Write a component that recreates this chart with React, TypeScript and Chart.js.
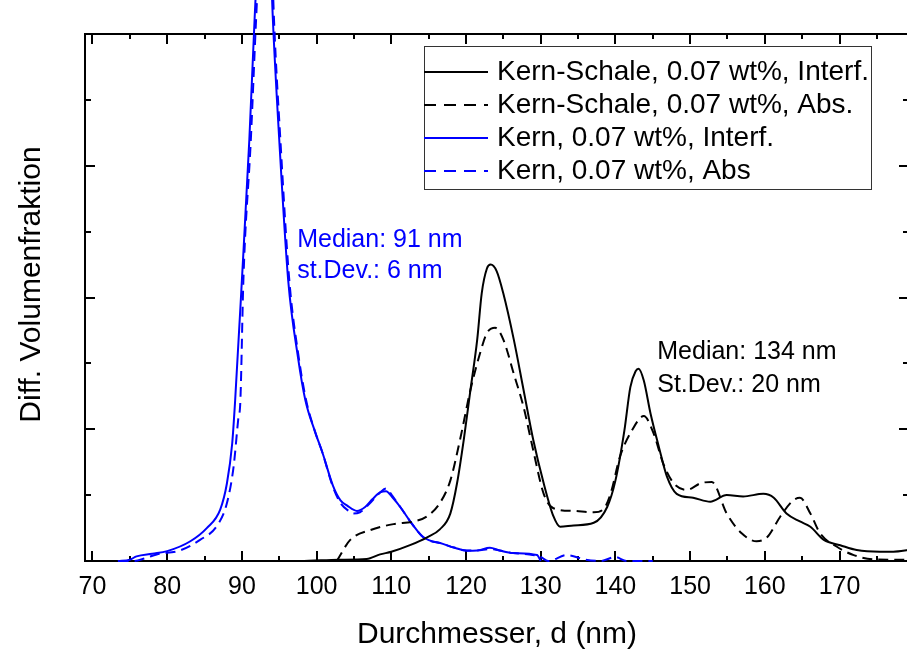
import React, { useEffect, useRef } from 'react';
import { Chart, registerables } from 'chart.js';

Chart.register(...registerables);

const FONT = "'Liberation Sans', Arial, Helvetica, sans-serif";

// ---- axis ----
const xTickValues = [70, 80, 90, 100, 110, 120, 130, 140, 150, 160, 170];
const xTitle = 'Durchmesser, d (nm)';
const yTitle = 'Diff. Volumenfraktion';

// ---- series labels ----
const seriesLabels = [
  'Kern-Schale, 0.07 wt%, Interf.',
  'Kern-Schale, 0.07 wt%, Abs.',
  'Kern, 0.07 wt%, Interf.',
  'Kern, 0.07 wt%, Abs',
];

// Kern-Schale, Interf. (black solid)
const ksInterfX = [92.7, 97.8, 103, 106.7, 108.5, 110, 112.5, 114.8, 116.5, 117.9, 118.8, 119.7, 120.6, 121.5, 122.1, 122.8, 123.3, 124.1, 125.0, 126.4, 127.7, 129.0, 130.4, 131.7, 132.6, 134.4, 137.1, 138.9, 140.0, 141.2, 142.0, 142.7, 143.1, 143.8, 144.7, 145.8, 146.9, 148.2, 150.4, 152.7, 154.9, 157.1, 159.8, 161.2, 162.9, 164.7, 166.1, 167.9, 170.1, 172.3, 175.4, 177.2, 179.5];
const ksInterfY = [0, 0, 0.01, 0.015, 0.05, 0.07, 0.12, 0.18, 0.24, 0.36, 0.59, 0.92, 1.30, 1.68, 2.03, 2.22, 2.25, 2.20, 2.03, 1.68, 1.30, 0.92, 0.59, 0.34, 0.26, 0.27, 0.29, 0.41, 0.61, 0.99, 1.32, 1.44, 1.46, 1.37, 1.12, 0.87, 0.64, 0.51, 0.48, 0.45, 0.50, 0.49, 0.51, 0.48, 0.36, 0.30, 0.26, 0.16, 0.12, 0.083, 0.07, 0.07, 0.085];

// Kern-Schale, Abs. (black dashed)
const ksAbsX = [102.7, 104.5, 107.2, 110.3, 113.0, 114.8, 116.5, 117.9, 119.2, 120.6, 121.9, 122.8, 123.9, 125.0, 126.4, 127.7, 129.0, 130.4, 131.7, 134.4, 137.1, 138.5, 139.4, 140.6, 142.2, 143.8, 145.1, 146.4, 147.8, 149.6, 151.4, 152.9, 154.9, 156.9, 158.9, 160.3, 162.1, 163.8, 164.7, 166.1, 167.4, 169.6, 171.9, 174.5, 177.2, 179.5];
const ksAbsY = [0, 0.16, 0.235, 0.28, 0.30, 0.34, 0.44, 0.61, 0.92, 1.30, 1.58, 1.73, 1.77, 1.68, 1.42, 1.17, 0.84, 0.51, 0.40, 0.38, 0.37, 0.40, 0.52, 0.79, 0.99, 1.10, 0.97, 0.74, 0.59, 0.54, 0.59, 0.60, 0.36, 0.21, 0.15, 0.18, 0.34, 0.46, 0.48, 0.36, 0.21, 0.11, 0.045, 0.013, 0.01, 0.01];

// Kern, Interf. (blue solid)
const kInterfX = [73.4, 75.0, 75.9, 78.0, 80.0, 83.1, 85.3, 87.1, 88.0, 88.7, 89.1, 90.0, 91.0, 91.7, 92.4, 93.0, 93.6, 94.15, 95.0, 96.2, 97.5, 98.5, 99.8, 100.8, 102.2, 103.2, 104.1, 105.4, 106.5, 107.5, 108.5, 109.3, 110.2, 111.2, 112.8, 114.3, 116.9, 118.5, 120.1, 121.5, 123.2, 124.5, 126.3, 129.5, 130.0];
const kInterfY = [0, 0.01, 0.035, 0.055, 0.075, 0.15, 0.25, 0.39, 0.59, 0.89, 1.22, 2.13, 3.20, 4.11, 4.9, 5.3, 4.95, 4.11, 3.20, 2.13, 1.55, 1.22, 0.98, 0.82, 0.57, 0.46, 0.42, 0.38, 0.41, 0.47, 0.52, 0.53, 0.48, 0.41, 0.28, 0.18, 0.13, 0.10, 0.078, 0.08, 0.10, 0.08, 0.06, 0.045, 0];

// Kern, Abs (blue dashed)
const kAbsX = [73.5, 75.5, 77.0, 78.6, 81.7, 84.4, 86.7, 88.0, 88.9, 89.5, 89.8, 90.2, 91.2, 91.9, 92.6, 93.2, 93.8, 94.3, 95.15, 96.35, 97.6, 98.6, 99.8, 100.8, 102.2, 103.2, 104.3, 104.9, 105.8, 107.0, 108.5, 109.3, 110.2, 111.2, 112.8, 114.3, 116.9, 118.5, 120.1, 121.5, 123.2, 124.5, 126.3, 128.5, 130.0, 131.0, 133.5, 136.0, 138.0, 140.0, 141.5, 145.0];
const kAbsY = [0, 0, 0.02, 0.05, 0.08, 0.16, 0.27, 0.44, 0.72, 1.07, 1.22, 2.13, 3.20, 4.11, 4.9, 5.3, 4.95, 4.11, 3.20, 2.13, 1.55, 1.22, 0.98, 0.82, 0.56, 0.44, 0.38, 0.36, 0.37, 0.43, 0.52, 0.55, 0.49, 0.41, 0.28, 0.18, 0.13, 0.10, 0.08, 0.08, 0.09, 0.08, 0.06, 0.05, 0.03, 0, 0.045, 0.01, 0, 0.03, 0, 0];

const seriesX = [ksInterfX, ksAbsX, kInterfX, kAbsX];
const seriesY = [ksInterfY, ksAbsY, kInterfY, kAbsY];
const seriesColors = ['#000000', '#000000', '#0000ff', '#0000ff'];
const seriesDashed = [false, true, false, true];

// ---- annotations ----
const noteTexts = ['Median: 91 nm', 'st.Dev.: 6 nm', 'Median: 134 nm', 'St.Dev.: 20 nm'];
const noteX = [97.4, 97.4, 145.6, 145.6];
const noteY = [2.383, 2.148, 1.531, 1.285];
const noteColors = ['#0000ff', '#0000ff', '#000000', '#000000'];

const DASH = [10, 6];

const framePlugin = {
  id: 'frame',
  beforeDatasetsDraw(chart: any) {
    const { ctx, chartArea, scales } = chart;
    const { left, top, right, bottom } = chartArea;
    const x = scales.x;
    const y = scales.y;
    ctx.save();
    ctx.strokeStyle = '#000';
    ctx.lineWidth = 2;
    ctx.beginPath();
    ctx.moveTo(left, top); ctx.lineTo(right, top);
    ctx.moveTo(left, bottom); ctx.lineTo(right, bottom);
    ctx.moveTo(left, top - 1); ctx.lineTo(left, bottom + 1);
    ctx.moveTo(right, top - 1); ctx.lineTo(right, bottom + 1);
    for (let v = 70; v <= 175; v += 5) {
      const px = Math.round(x.getPixelForValue(v));
      const len = v % 10 === 0 ? 10 : 5;
      ctx.moveTo(px, bottom); ctx.lineTo(px, bottom - len);
      ctx.moveTo(px, top); ctx.lineTo(px, top + len);
    }
    for (let v = 0.5; v < 4; v += 0.5) {
      const py = Math.round(y.getPixelForValue(v));
      const len = Number.isInteger(v) ? 10 : 6;
      ctx.moveTo(left, py); ctx.lineTo(left + len, py);
      ctx.moveTo(right, py); ctx.lineTo(right - len, py);
    }
    ctx.stroke();
    ctx.restore();
  },
};

const textPlugin = {
  id: 'texts',
  afterDraw(chart: any) {
    const { ctx, chartArea, scales } = chart;
    const x = scales.x;
    const y = scales.y;
    ctx.save();
    // y axis title
    ctx.save();
    ctx.translate(32, (chartArea.top + chartArea.bottom) / 2 - 13);
    ctx.rotate(-Math.PI / 2);
    ctx.font = `30px ${FONT}`;
    ctx.fillStyle = '#000';
    ctx.textAlign = 'center';
    ctx.textBaseline = 'middle';
    ctx.fillText(yTitle, 0, 0);
    ctx.restore();

    // annotations
    ctx.font = `25px ${FONT}`;
    ctx.textAlign = 'left';
    ctx.textBaseline = 'alphabetic';
    noteTexts.forEach((t, i) => {
      ctx.fillStyle = noteColors[i];
      ctx.fillText(t, x.getPixelForValue(noteX[i]), y.getPixelForValue(noteY[i]));
    });

    // legend
    const bx = 424, by = 46, bw = 447, bh = 143;
    ctx.fillStyle = '#fff';
    ctx.fillRect(bx, by, bw, bh);
    ctx.strokeStyle = '#333';
    ctx.lineWidth = 1;
    ctx.strokeRect(bx + 0.5, by + 0.5, bw, bh);
    ctx.font = `28px ${FONT}`;
    ctx.textBaseline = 'middle';
    seriesLabels.forEach((lab, i) => {
      const ry = 72 + i * 33;
      ctx.strokeStyle = seriesColors[i];
      ctx.lineWidth = 2;
      ctx.setLineDash(seriesDashed[i] ? [12, 8] : []);
      ctx.beginPath();
      ctx.moveTo(bx, Math.round(ry));
      ctx.lineTo(bx + 64, Math.round(ry));
      ctx.stroke();
      ctx.setLineDash([]);
      ctx.fillStyle = '#000';
      ctx.fillText(lab, bx + 73, ry);
    });
    ctx.restore();
  },
};

export default function App() {
  const canvasRef = useRef<HTMLCanvasElement | null>(null);

  useEffect(() => {
    document.documentElement.style.overflow = 'hidden';
    document.body.style.overflow = 'hidden';
    const canvas = canvasRef.current;
    if (!canvas) return;
    const datasets = seriesLabels.map((label, i) => ({
      label,
      data: seriesX[i].map((xv, j) => ({ x: xv, y: seriesY[i][j] })),
      borderColor: seriesColors[i],
      backgroundColor: seriesColors[i],
      borderWidth: 2,
      borderDash: seriesDashed[i] ? DASH : [],
      pointRadius: 0,
      fill: false,
      cubicInterpolationMode: 'monotone' as const,
      clip: false as any,
    }));
    const chart = new Chart(canvas, {
      type: 'line',
      data: { datasets },
      options: {
        animation: false,
        responsive: false,
        devicePixelRatio: 1,
        layout: { padding: { top: 34, right: 6, left: 0, bottom: 0 } },
        plugins: {
          legend: { display: false },
          tooltip: { enabled: false },
          title: { display: false },
        },
        scales: {
          x: {
            type: 'linear',
            min: 69,
            max: 179.3,
            afterBuildTicks: (scale: any) => {
              scale.ticks = xTickValues.map((v) => ({ value: v }));
            },
            afterFit: (scale: any) => {
              scale.height = 92;
            },
            grid: { display: false, drawTicks: false },
            border: { display: false },
            ticks: {
              autoSkip: false,
              maxRotation: 0,
              padding: 11,
              color: '#000',
              font: { family: FONT, size: 25 },
            },
            title: {
              display: true,
              text: xTitle,
              color: '#000',
              font: { family: FONT, size: 30 },
              padding: 0,
            },
          },
          y: {
            type: 'linear',
            min: 0,
            max: 4,
            afterFit: (scale: any) => {
              scale.width = 85;
            },
            grid: { display: false, drawTicks: false },
            border: { display: false },
            ticks: { display: false },
          },
        },
      },
      plugins: [framePlugin, textPlugin],
    });
    return () => chart.destroy();
  }, []);

  return (
    <div style={{ position: 'absolute', left: 0, top: 0, width: 907, height: 653, overflow: 'hidden', background: '#fff' }}>
      <canvas ref={canvasRef} width={915} height={653} style={{ display: 'block' }} />
    </div>
  );
}
